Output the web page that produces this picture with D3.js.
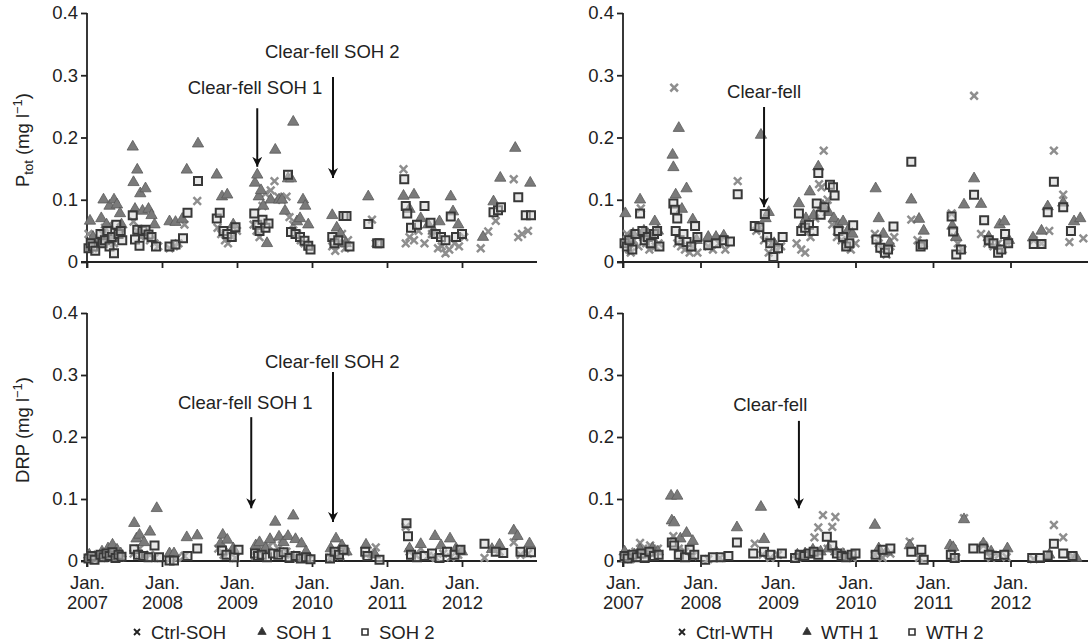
<!DOCTYPE html>
<html>
<head>
<meta charset="utf-8">
<script src="https://cdnjs.cloudflare.com/ajax/libs/d3/7.8.5/d3.min.js"></script>
<style>
  body { margin: 0; background: #fff; }
  svg { font-family: "Liberation Sans", Arial, sans-serif; }
</style>
</head>
<body>
<div id="chart"></div>
<script>
// [decimal year, mg/l]
// --- SOH, total P ---
const ctrlSOH_P = [[2007.02,0.045],[2007.05,0.03],[2007.08,0.022],[2007.11,0.035],
  [2007.18,0.03],[2007.21,0.045],[2007.24,0.055],[2007.27,0.035],[2007.3,0.06],[2007.33,0.04],[2007.36,0.03],[2007.39,0.05],[2007.42,0.045],[2007.45,0.055],
  [2007.62,0.065],[2007.67,0.05],[2007.72,0.04],[2007.78,0.045],[2007.84,0.035],[2007.9,0.03],[2007.95,0.025],
  [2008.1,0.022],[2008.16,0.025],[2008.22,0.03],[2008.3,0.06],[2008.47,0.098],
  [2008.74,0.055],[2008.79,0.045],[2008.84,0.035],[2008.88,0.03],[2008.94,0.04],[2009.0,0.05],
  [2009.22,0.06],[2009.26,0.05],[2009.3,0.04],[2009.34,0.09],[2009.38,0.11],[2009.45,0.115],[2009.5,0.13],[2009.55,0.105],[2009.6,0.1],[2009.66,0.105],[2009.7,0.072],[2009.75,0.06],[2009.8,0.045],[2009.85,0.035],[2009.9,0.03],[2009.95,0.025],
  [2010.27,0.025],[2010.31,0.018],[2010.35,0.03],[2010.4,0.045],[2010.44,0.022],[2010.48,0.035],[2010.8,0.068],[2010.85,0.03],
  [2011.22,0.149],[2011.25,0.03],[2011.3,0.04],[2011.36,0.035],[2011.42,0.05],[2011.5,0.03],[2011.6,0.045],[2011.68,0.022],[2011.73,0.025],[2011.78,0.014],[2011.83,0.02],[2011.9,0.03],[2011.96,0.025],[2012.03,0.04],
  [2012.25,0.022],[2012.35,0.049],[2012.45,0.066],[2012.69,0.133],[2012.75,0.04],[2012.8,0.045],[2012.88,0.05]];
const soh1_P = [[2007.04,0.066],[2007.08,0.04],[2007.12,0.03],
  [2007.19,0.07],[2007.22,0.1],[2007.26,0.06],[2007.3,0.09],[2007.36,0.1],[2007.4,0.092],[2007.44,0.078],[2007.46,0.06],
  [2007.61,0.185],[2007.62,0.128],[2007.64,0.085],[2007.67,0.148],[2007.71,0.11],[2007.74,0.082],[2007.78,0.118],[2007.82,0.085],[2007.86,0.075],[2007.9,0.06],
  [2008.1,0.065],[2008.18,0.064],[2008.27,0.069],[2008.33,0.148],[2008.48,0.19],
  [2008.73,0.14],[2008.8,0.105],[2008.87,0.108],[2008.95,0.06],
  [2009.24,0.127],[2009.27,0.14],[2009.29,0.105],[2009.32,0.115],[2009.35,0.09],[2009.4,0.03],[2009.45,0.1],[2009.51,0.18],[2009.56,0.1],[2009.6,0.1],[2009.64,0.082],[2009.68,0.134],[2009.72,0.134],[2009.75,0.225],[2009.8,0.065],[2009.84,0.07],[2009.88,0.1],[2009.91,0.09],[2009.95,0.06],
  [2010.27,0.075],[2010.33,0.055],[2010.38,0.045],[2010.45,0.03],[2010.75,0.105],
  [2011.22,0.106],[2011.3,0.085],[2011.36,0.108],[2011.45,0.07],[2011.55,0.06],[2011.62,0.05],[2011.7,0.065],[2011.85,0.105],[2011.88,0.081],[2011.95,0.06],
  [2012.28,0.04],[2012.42,0.097],[2012.51,0.135],[2012.71,0.183],[2012.91,0.127]];
const soh2_P = [[2007.02,0.022],[2007.05,0.03],[2007.08,0.025],[2007.11,0.018],
  [2007.18,0.045],[2007.21,0.03],[2007.24,0.035],[2007.27,0.05],[2007.3,0.025],[2007.33,0.04],[2007.36,0.014],[2007.39,0.06],[2007.42,0.045],[2007.45,0.05],[2007.47,0.035],
  [2007.61,0.075],[2007.64,0.036],[2007.67,0.052],[2007.7,0.026],[2007.74,0.05],[2007.78,0.052],[2007.82,0.044],[2007.86,0.04],[2007.92,0.025],
  [2008.1,0.025],[2008.18,0.028],[2008.28,0.038],[2008.34,0.079],[2008.48,0.13],
  [2008.73,0.07],[2008.77,0.079],[2008.82,0.05],[2008.87,0.045],[2008.93,0.04],[2008.98,0.056],
  [2009.23,0.078],[2009.27,0.06],[2009.3,0.05],[2009.34,0.068],[2009.38,0.055],[2009.42,0.062],[2009.68,0.14],[2009.72,0.048],[2009.78,0.045],[2009.84,0.04],[2009.9,0.034],[2009.95,0.026],[2009.98,0.02],
  [2010.27,0.04],[2010.3,0.03],[2010.35,0.035],[2010.42,0.074],[2010.46,0.074],[2010.5,0.025],[2010.75,0.061],[2010.87,0.03],[2010.9,0.03],
  [2011.23,0.133],[2011.25,0.09],[2011.27,0.078],[2011.32,0.055],[2011.4,0.06],[2011.5,0.09],[2011.58,0.063],[2011.65,0.045],[2011.72,0.04],[2011.78,0.035],[2011.85,0.073],[2011.92,0.04],[2012.0,0.045],
  [2012.42,0.08],[2012.48,0.083],[2012.52,0.088],[2012.75,0.104],[2012.85,0.075],[2012.92,0.075]];

// --- WTH, total P ---
const ctrlWTH_P = [[2007.02,0.03],[2007.05,0.045],[2007.08,0.02],[2007.1,0.015],[2007.14,0.035],[2007.2,0.025],[2007.23,0.086],[2007.26,0.04],[2007.3,0.03],[2007.34,0.02],[2007.38,0.045],[2007.42,0.025],[2007.46,0.03],
  [2007.66,0.28],[2007.7,0.03],[2007.75,0.025],[2007.8,0.02],[2007.86,0.015],[2007.9,0.025],[2007.96,0.015],
  [2008.1,0.025],[2008.16,0.02],[2008.24,0.03],[2008.32,0.02],[2008.48,0.13],
  [2008.72,0.05],[2008.76,0.055],[2008.82,0.035],[2008.88,0.015],[2008.92,0.03],[2008.98,0.02],[2009.04,0.025],
  [2009.24,0.03],[2009.3,0.02],[2009.35,0.015],[2009.42,0.04],[2009.48,0.07],[2009.53,0.125],[2009.56,0.12],[2009.59,0.179],[2009.64,0.1],[2009.7,0.06],[2009.76,0.04],[2009.82,0.035],[2009.88,0.025],[2009.94,0.02],[2010.0,0.03],
  [2010.25,0.045],[2010.3,0.03],[2010.35,0.02],[2010.4,0.012],[2010.45,0.025],[2010.5,0.04],
  [2010.72,0.068],[2010.8,0.035],[2010.88,0.03],
  [2011.24,0.078],[2011.28,0.04],[2011.32,0.03],[2011.38,0.02],[2011.53,0.267],[2011.62,0.045],[2011.7,0.03],[2011.78,0.025],[2011.84,0.03],[2011.9,0.02],[2011.96,0.03],
  [2012.3,0.035],[2012.4,0.03],[2012.5,0.05],[2012.56,0.179],[2012.68,0.108],[2012.76,0.032],[2012.94,0.038]];
const wth1_P = [[2007.03,0.078],[2007.08,0.035],[2007.13,0.045],[2007.22,0.1],[2007.27,0.05],[2007.32,0.045],[2007.37,0.04],[2007.41,0.065],[2007.45,0.05],
  [2007.64,0.172],[2007.65,0.152],[2007.68,0.108],[2007.72,0.215],[2007.76,0.085],[2007.82,0.118],[2007.9,0.068],[2007.95,0.035],
  [2008.1,0.04],[2008.2,0.04],[2008.3,0.042],
  [2008.78,0.204],[2008.84,0.07],[2008.88,0.08],[2008.95,0.03],
  [2009.27,0.094],[2009.32,0.06],[2009.36,0.07],[2009.41,0.113],[2009.46,0.075],[2009.52,0.153],[2009.58,0.09],[2009.65,0.08],[2009.72,0.07],[2009.78,0.06],[2009.84,0.065],[2009.9,0.05],[2009.96,0.045],
  [2010.26,0.118],[2010.3,0.07],[2010.36,0.045],[2010.44,0.03],
  [2010.72,0.1],[2010.82,0.069],[2010.88,0.05],
  [2011.25,0.058],[2011.3,0.04],[2011.4,0.092],[2011.53,0.134],[2011.62,0.093],[2011.72,0.04],[2011.86,0.06],[2011.92,0.065],[2011.98,0.035],
  [2012.29,0.039],[2012.4,0.05],[2012.48,0.089],[2012.68,0.095],[2012.82,0.065],[2012.9,0.07]];
const wth2_P = [[2007.02,0.03],[2007.05,0.025],[2007.08,0.035],[2007.12,0.02],[2007.16,0.045],[2007.22,0.078],[2007.25,0.05],[2007.28,0.035],[2007.32,0.04],[2007.36,0.03],[2007.4,0.045],[2007.44,0.05],[2007.47,0.025],
  [2007.65,0.094],[2007.67,0.084],[2007.7,0.07],[2007.68,0.05],[2007.73,0.035],[2007.78,0.045],[2007.82,0.032],[2007.88,0.025],[2007.93,0.058],[2007.96,0.04],
  [2008.1,0.027],[2008.2,0.03],[2008.3,0.035],[2008.38,0.033],[2008.48,0.109],
  [2008.7,0.058],[2008.76,0.056],[2008.83,0.077],[2008.86,0.04],[2008.9,0.03],[2008.94,0.008],[2009.0,0.022],[2009.06,0.04],
  [2009.27,0.078],[2009.3,0.05],[2009.35,0.055],[2009.4,0.06],[2009.46,0.05],[2009.5,0.094],[2009.52,0.143],[2009.55,0.076],[2009.6,0.088],[2009.67,0.124],[2009.71,0.12],[2009.73,0.107],[2009.78,0.05],[2009.84,0.04],[2009.88,0.025],[2009.92,0.03],[2009.97,0.059],
  [2010.27,0.036],[2010.32,0.023],[2010.38,0.015],[2010.42,0.02],[2010.49,0.057],
  [2010.72,0.161],[2010.84,0.025],[2010.87,0.028],
  [2011.24,0.073],[2011.26,0.049],[2011.3,0.012],[2011.36,0.02],[2011.53,0.108],[2011.66,0.067],[2011.72,0.035],[2011.78,0.03],[2011.84,0.015],[2011.88,0.02],[2011.93,0.045],[2011.97,0.03],
  [2012.3,0.029],[2012.4,0.029],[2012.48,0.08],[2012.56,0.129],[2012.68,0.088],[2012.78,0.05]];

// --- SOH, DRP ---
const ctrlSOH_D = [[2007.02,0.005],[2007.06,0.01],[2007.1,0.003],[2007.18,0.008],[2007.22,0.012],[2007.27,0.005],[2007.32,0.015],[2007.36,0.02],[2007.4,0.01],[2007.45,0.006],
  [2007.62,0.012],[2007.7,0.02],[2007.76,0.008],[2007.84,0.01],[2007.9,0.005],
  [2008.1,0.003],[2008.2,0.005],[2008.3,0.008],
  [2008.75,0.02],[2008.82,0.01],[2008.9,0.015],[2008.98,0.005],
  [2009.24,0.008],[2009.3,0.015],[2009.36,0.02],[2009.42,0.025],[2009.48,0.03],[2009.55,0.02],[2009.6,0.035],[2009.66,0.015],[2009.72,0.01],[2009.8,0.005],[2009.88,0.008],[2009.96,0.003],
  [2010.24,0.005],[2010.3,0.01],[2010.38,0.008],[2010.45,0.015],
  [2010.72,0.01],[2010.85,0.022],
  [2011.25,0.055],[2011.3,0.015],[2011.38,0.01],[2011.45,0.02],[2011.55,0.008],[2011.65,0.005],[2011.75,0.012],[2011.85,0.006],[2011.95,0.01],
  [2012.3,0.005],[2012.5,0.015],[2012.69,0.03],[2012.78,0.01],[2012.88,0.012]];
const soh1_D = [[2007.03,0.01],[2007.08,0.005],[2007.2,0.015],[2007.28,0.02],[2007.34,0.026],[2007.4,0.018],[2007.45,0.012],
  [2007.63,0.061],[2007.66,0.036],[2007.7,0.042],[2007.76,0.03],[2007.84,0.047],[2007.93,0.085],
  [2008.1,0.012],[2008.16,0.012],[2008.33,0.038],[2008.47,0.041],
  [2008.78,0.028],[2008.81,0.042],[2008.87,0.034],[2008.95,0.02],
  [2009.25,0.025],[2009.3,0.03],[2009.38,0.02],[2009.44,0.035],[2009.51,0.063],[2009.56,0.039],[2009.62,0.03],[2009.68,0.04],[2009.75,0.073],[2009.78,0.035],[2009.86,0.028],[2009.92,0.015],
  [2010.25,0.02],[2010.32,0.036],[2010.4,0.025],[2010.46,0.015],
  [2010.72,0.026],[2010.84,0.01],
  [2011.3,0.02],[2011.45,0.027],[2011.64,0.04],[2011.72,0.025],[2011.84,0.036],[2011.92,0.02],[2012.0,0.015],
  [2012.4,0.019],[2012.5,0.026],[2012.69,0.049],[2012.74,0.04],[2012.9,0.028]];
const soh2_D = [[2007.02,0.004],[2007.06,0.008],[2007.1,0.002],[2007.18,0.01],[2007.22,0.006],[2007.26,0.012],[2007.3,0.008],[2007.34,0.014],[2007.38,0.005],[2007.42,0.01],[2007.46,0.007],
  [2007.63,0.019],[2007.68,0.01],[2007.75,0.008],[2007.82,0.006],[2007.9,0.025],[2007.96,0.006],
  [2008.1,0.001],[2008.16,0.001],[2008.34,0.008],[2008.47,0.02],
  [2008.8,0.017],[2008.86,0.01],[2008.96,0.006],[2009.02,0.018],
  [2009.24,0.012],[2009.28,0.008],[2009.33,0.01],[2009.4,0.006],[2009.48,0.012],[2009.55,0.01],[2009.62,0.014],[2009.7,0.005],[2009.78,0.008],[2009.85,0.004],[2009.92,0.006],[2009.98,0.003],
  [2010.24,0.004],[2010.3,0.015],[2010.36,0.01],[2010.42,0.018],
  [2010.71,0.015],[2010.74,0.008],[2010.9,0.002],
  [2011.26,0.061],[2011.28,0.04],[2011.32,0.01],[2011.4,0.006],[2011.5,0.008],[2011.6,0.012],[2011.7,0.005],[2011.8,0.015],[2011.9,0.01],[2011.98,0.018],
  [2012.3,0.028],[2012.45,0.015],[2012.55,0.013],[2012.78,0.015],[2012.92,0.014]];

// --- WTH, DRP ---
const ctrlWTH_D = [[2007.02,0.005],[2007.06,0.01],[2007.1,0.003],[2007.16,0.015],[2007.22,0.029],[2007.26,0.02],[2007.3,0.01],[2007.35,0.025],[2007.4,0.015],[2007.45,0.02],
  [2007.65,0.04],[2007.72,0.02],[2007.8,0.015],[2007.9,0.008],
  [2008.1,0.003],[2008.25,0.005],
  [2008.7,0.028],[2008.8,0.01],[2008.9,0.005],[2009.0,0.01],
  [2009.25,0.005],[2009.32,0.01],[2009.4,0.012],[2009.47,0.038],[2009.52,0.054],[2009.58,0.074],[2009.64,0.02],[2009.7,0.055],[2009.74,0.071],[2009.8,0.015],[2009.88,0.008],[2009.96,0.005],
  [2010.25,0.01],[2010.35,0.005],[2010.45,0.012],
  [2010.7,0.031],[2010.82,0.005],
  [2011.25,0.02],[2011.3,0.005],[2011.4,0.069],[2011.65,0.025],[2011.75,0.005],[2011.85,0.01],[2011.95,0.006],
  [2012.3,0.003],[2012.56,0.058],[2012.68,0.038],[2012.8,0.008]];
const wth1_D = [[2007.02,0.015],[2007.08,0.008],[2007.15,0.01],[2007.22,0.018],[2007.3,0.012],[2007.38,0.02],[2007.45,0.015],
  [2007.62,0.105],[2007.63,0.065],[2007.66,0.062],[2007.7,0.105],[2007.74,0.036],[2007.82,0.045],[2007.9,0.032],
  [2008.47,0.054],
  [2008.78,0.087],[2008.82,0.035],
  [2009.25,0.01],[2009.35,0.012],[2009.45,0.018],[2009.55,0.015],[2009.65,0.02],[2009.75,0.015],[2009.85,0.01],
  [2010.25,0.058],[2010.3,0.02],[2010.4,0.015],
  [2010.7,0.025],
  [2011.22,0.025],[2011.26,0.022],[2011.4,0.067],[2011.65,0.028],[2011.75,0.015],[2011.96,0.02],
  [2012.5,0.01],[2012.85,0.005]];
const wth2_D = [[2007.02,0.008],[2007.06,0.004],[2007.12,0.01],[2007.18,0.006],[2007.24,0.012],[2007.28,0.005],[2007.34,0.015],[2007.4,0.008],[2007.46,0.01],
  [2007.63,0.03],[2007.66,0.025],[2007.72,0.01],[2007.8,0.006],[2007.86,0.018],[2007.92,0.01],
  [2008.06,0.002],[2008.16,0.006],[2008.26,0.006],[2008.36,0.008],[2008.47,0.03],
  [2008.68,0.012],[2008.82,0.015],[2008.9,0.01],[2009.05,0.012],
  [2009.22,0.005],[2009.28,0.01],[2009.34,0.008],[2009.4,0.012],[2009.46,0.015],[2009.52,0.01],[2009.63,0.039],[2009.7,0.025],[2009.76,0.012],[2009.82,0.008],[2009.88,0.006],[2009.95,0.01],[2010.0,0.012],
  [2010.26,0.01],[2010.35,0.018],[2010.45,0.02],
  [2010.72,0.015],[2010.85,0.018],[2010.88,0.002],
  [2011.23,0.01],[2011.28,0.005],[2011.52,0.02],[2011.65,0.02],[2011.72,0.01],[2011.82,0.008],[2011.92,0.01],
  [2012.28,0.005],[2012.38,0.005],[2012.48,0.009],[2012.56,0.028],[2012.68,0.012],[2012.8,0.008]];

const yearTicks = [2007, 2008, 2009, 2010, 2011, 2012];
const yTicks = [0, 0.1, 0.2, 0.3, 0.4];
const namesSOH = ["Ctrl-SOH", "SOH 1", "SOH 2"];
const namesWTH = ["Ctrl-WTH", "WTH 1", "WTH 2"];

// clear-fell arrows: label, date, arrow top, arrow tip, label baseline (mg/l), label date
const notesSOH_P = [{text: "Clear-fell SOH 1", t: 2009.27, top: 0.247, tip: 0.153, lab: 0.27, lt: 2009.24},
                    {text: "Clear-fell SOH 2", t: 2010.28, top: 0.297, tip: 0.135, lab: 0.328, lt: 2010.27}];
const notesSOH_D = [{text: "Clear-fell SOH 1", t: 2009.19, top: 0.232, tip: 0.085, lab: 0.245, lt: 2009.11},
                    {text: "Clear-fell SOH 2", t: 2010.28, top: 0.305, tip: 0.063, lab: 0.311, lt: 2010.27}];
const notesWTH_P = [{text: "Clear-fell", t: 2008.82, top: 0.249, tip: 0.088, lab: 0.263, lt: 2008.82}];
const notesWTH_D = [{text: "Clear-fell", t: 2009.27, top: 0.226, tip: 0.085, lab: 0.242, lt: 2008.9}];

const W = 1092, H = 643;
const FS = 18.5;
const svg = d3.select("#chart").append("svg").attr("width", W).attr("height", H);

svg.append("defs").append("marker")
  .attr("id", "head").attr("viewBox", "0 0 10 10")
  .attr("refX", 10).attr("refY", 5)
  .attr("markerWidth", 5).attr("markerHeight", 5)
  .attr("markerUnits", "strokeWidth").attr("orient", "auto")
  .append("path").attr("d", "M0,0L10,5L0,10L3,5Z").attr("fill", "#111");

const cols = [[87, 537], [623, 1088]];
const rows = [[262, 13], [561, 313]];
const panels = [
  {c: 0, r: 0, data: [ctrlSOH_P, soh1_P, soh2_P], notes: notesSOH_P},
  {c: 1, r: 0, data: [ctrlWTH_P, wth1_P, wth2_P], notes: notesWTH_P},
  {c: 0, r: 1, data: [ctrlSOH_D, soh1_D, soh2_D], notes: notesSOH_D},
  {c: 1, r: 1, data: [ctrlWTH_D, wth1_D, wth2_D], notes: notesWTH_D}
];

const crossPath = "M-3.8,-3.8L3.8,3.8M-3.8,3.8L3.8,-3.8";
const triPath = d3.symbol().type(d3.symbolTriangle).size(55)();
const sqPath = "M-4,-4H4V4H-4Z";

function marker(g, k, big) {
  if (k === 0) {
    g.append("path").attr("d", big ? crossPath : "M-3,-3L3,3M-3,3L3,-3").attr("fill", "none")
      .attr("stroke", big ? "#8e8e8e" : "#222").attr("stroke-width", big ? 2.5 : 1.9);
  } else if (k === 1) {
    g.append("path").attr("d", big ? triPath : d3.symbol().type(d3.symbolTriangle).size(30)())
      .attr("fill", big ? "#7a7a7a" : "#333")
      .attr("stroke", big ? "#5a5a5a" : "#333").attr("stroke-width", 0.8);
  } else {
    g.append("path").attr("d", big ? sqPath : "M-3,-3H3V3H-3Z")
      .attr("fill", big ? "#d0d0d0" : "#fff").attr("fill-opacity", big ? 0.5 : 1)
      .attr("stroke", big ? "#383838" : "#333").attr("stroke-width", big ? 2 : 1.6);
  }
}

panels.forEach(p => {
  const x = d3.scaleLinear().domain([2007, 2013]).range(cols[p.c]);
  const y = d3.scaleLinear().domain([0, 0.4]).range(rows[p.r]);
  const g = svg.append("g");

  const ya = g.append("g").attr("transform", `translate(${cols[p.c][0]},0)`)
    .call(d3.axisLeft(y).tickValues(yTicks).tickSize(6).tickPadding(3)
      .tickFormat(d => d === 0 ? "0" : d3.format(".1f")(d)));
  const xa = g.append("g").attr("transform", `translate(0,${rows[p.r][0]})`)
    .call(d3.axisBottom(x).tickValues(yearTicks).tickSize(6).tickFormat(""));
  [ya, xa].forEach(a => {
    a.select(".domain").attr("stroke", "#222").attr("stroke-width", 1.8);
    a.selectAll(".tick line").attr("stroke", "#222").attr("stroke-width", 1.8);
    a.selectAll("text").attr("font-size", FS).attr("fill", "#222")
      .attr("font-family", "'Liberation Sans', Arial, sans-serif");
  });
  ya.select(".domain").attr("d", `M0,${rows[p.r][1]}V${rows[p.r][0] + 6}`);
  xa.select(".domain").attr("d", `M${cols[p.c][0] - 6},0H${cols[p.c][1]}`);

  if (p.r === 1) {
    const lab = xa.selectAll(".tick").append("text").attr("fill", "#222")
      .attr("font-size", FS).attr("text-anchor", "middle");
    lab.append("tspan").attr("x", 0).attr("y", 28).text("Jan.");
    lab.append("tspan").attr("x", 0).attr("y", 48).text(d => d);
  }

  // points: Ctrl, then 1, then 2 on top
  p.data.forEach((s, k) => {
    s.forEach(d => {
      const m = g.append("g").attr("transform", `translate(${x(d[0])},${y(d[1])})`);
      marker(m, k, true);
    });
  });

  p.notes.forEach(n => {
    g.append("line").attr("x1", x(n.t)).attr("x2", x(n.t))
      .attr("y1", y(n.top)).attr("y2", y(n.tip))
      .attr("stroke", "#111").attr("stroke-width", 2).attr("marker-end", "url(#head)");
    g.append("text").attr("x", x(n.lt)).attr("y", y(n.lab))
      .attr("text-anchor", "middle").attr("font-size", FS).attr("fill", "#222").text(n.text);
  });
});

// y axis titles
const ptot = svg.append("text").attr("transform", "translate(29,140) rotate(-90)")
  .attr("text-anchor", "middle").attr("font-size", FS).attr("fill", "#222");
ptot.append("tspan").text("P");
ptot.append("tspan").attr("font-size", 13).attr("dy", 4).text("tot");
ptot.append("tspan").attr("dy", -4).text(" (mg l");
ptot.append("tspan").attr("font-size", 13).attr("dy", -7).text("−1");
ptot.append("tspan").attr("dy", 7).text(")");

const drp = svg.append("text").attr("transform", "translate(29,430) rotate(-90)")
  .attr("text-anchor", "middle").attr("font-size", FS).attr("fill", "#222");
drp.append("tspan").text("DRP (mg l");
drp.append("tspan").attr("font-size", 13).attr("dy", -7).text("−1");
drp.append("tspan").attr("dy", 7).text(")");

// legends
const legendX = [[137, 262, 365], [682, 807, 912]];
[namesSOH, namesWTH].forEach((names, c) => {
  names.forEach((name, k) => {
    const lg = svg.append("g").attr("transform", `translate(${legendX[c][k]},632)`);
    marker(lg, k, false);
    lg.append("text").attr("x", 14).attr("y", 6.5).attr("font-size", FS).attr("fill", "#222").text(name);
  });
});
</script>
</body>
</html>
